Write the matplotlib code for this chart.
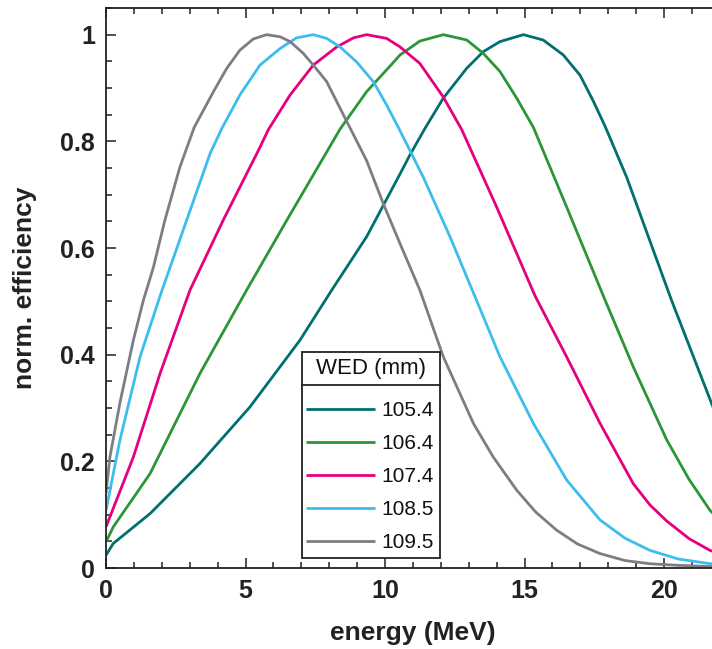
import matplotlib
matplotlib.use("Agg")
import matplotlib.pyplot as plt
from matplotlib.lines import Line2D
from matplotlib.patches import Rectangle
from matplotlib.ticker import MultipleLocator, FixedLocator

plt.rcParams['font.family'] = ['Liberation Sans', 'DejaVu Sans']

labels = ["105.4", "106.4", "107.4", "108.5", "109.5"]
legend_title = "WED (mm)"
colors = ["#00706e", "#2a9638", "#e6007e", "#3cbdee", "#7d7d84"]

x_1054 = [0, 0.26, 1.58, 3.37, 5.16, 6.95, 8.09, 9.34, 10.54, 10.9, 11.43, 12.09, 12.93, 13.52, 14.12,
          14.96, 15.67, 16.39, 16.99, 17.47, 17.89, 18.66, 20.27, 21.71, 22]
y_1054 = [0.024, 0.046, 0.102, 0.196, 0.302, 0.427, 0.521, 0.621, 0.739, 0.775, 0.824, 0.881, 0.937, 0.968, 0.987,
          1.0, 0.990, 0.962, 0.924, 0.875, 0.828, 0.733, 0.502, 0.308, 0.27]

x_1064 = [0, 0.26, 1.58, 3.37, 5.04, 6.48, 8.39, 9.34, 10.3, 10.54, 11.25, 12.09, 12.93, 13.52, 14.12,
          14.72, 15.32, 16.51, 17.89, 18.9, 20.1, 20.9, 21.65, 22]
y_1064 = [0.049, 0.077, 0.177, 0.365, 0.521, 0.652, 0.823, 0.893, 0.948, 0.962, 0.988, 1.0, 0.990, 0.965, 0.931,
          0.881, 0.826, 0.677, 0.502, 0.377, 0.24, 0.166, 0.108, 0.09]

x_1074 = [0, 0.98, 1.94, 3.01, 4.2, 5.52, 5.82, 6.6, 7.43, 8.27, 8.87, 9.34, 10.06, 10.54, 11.25, 12.09,
          12.75, 14.0, 15.38, 16.51, 17.71, 18.9, 19.5, 20.1, 20.9, 21.65, 22]
y_1074 = [0.077, 0.208, 0.365, 0.521, 0.652, 0.789, 0.822, 0.887, 0.943, 0.977, 0.994, 1.0, 0.993, 0.977, 0.946, 0.883,
          0.822, 0.677, 0.51, 0.396, 0.271, 0.158, 0.118, 0.088, 0.055, 0.033, 0.027]

x_1085 = [0, 0.5, 1.22, 1.97, 2.89, 3.73, 4.15, 4.80, 5.52, 6.24, 6.83, 7.43, 7.91, 8.39, 8.98, 9.58,
          10.06, 10.48, 11.37, 12.33, 13.28, 14.12, 15.32, 16.51, 17.71, 18.6, 19.5, 20.5, 21.65, 22]
y_1085 = [0.108, 0.24, 0.396, 0.515, 0.652, 0.777, 0.824, 0.887, 0.943, 0.974, 0.994, 1.0, 0.993, 0.977, 0.949, 0.912,
          0.868, 0.826, 0.733, 0.621, 0.502, 0.396, 0.271, 0.165, 0.09, 0.056, 0.033, 0.017, 0.008, 0.007]

x_1095 = [0, 0.14, 0.5, 0.98, 1.34, 1.70, 2.11, 2.65, 3.16, 3.85, 4.33, 4.80, 5.28, 5.76, 6.24, 6.6, 7.07,
          7.43, 7.91, 8.39, 8.7, 9.34, 9.94, 10.54, 10.9, 11.25, 12.09, 13.17, 13.88, 14.72, 15.4, 16.15,
          16.9, 17.71, 18.6, 19.5, 20.5, 22]
y_1095 = [0.14, 0.208, 0.31, 0.427, 0.502, 0.564, 0.652, 0.752, 0.826, 0.893, 0.937, 0.971, 0.992, 1.0, 0.996, 0.987, 0.965,
          0.943, 0.912, 0.862, 0.83, 0.764, 0.683, 0.608, 0.564, 0.521, 0.396, 0.271, 0.208, 0.146, 0.105, 0.071,
          0.045, 0.027, 0.014, 0.008, 0.005, 0.002]

series_x = [x_1054, x_1064, x_1074, x_1085, x_1095]
series_y = [y_1054, y_1064, y_1074, y_1085, y_1095]

x_major = [0, 5, 10, 15, 20]
y_major = [0, 0.2, 0.4, 0.6, 0.8, 1.0]
y_ticklabels = ["0", "0.2", "0.4", "0.6", "0.8", "1"]

W, H = 712, 649
fig = plt.figure(figsize=(W / 100, H / 100), dpi=100)
ax = fig.add_axes([106 / W, 1 - 568 / H, 22 * 27.9 / W, 560 / H])

handles = []
for xs, ys, c, lab in zip(series_x, series_y, colors, labels):
    ln, = ax.plot(xs, ys, color=c, lw=2.0, label=lab, solid_joinstyle='round', solid_capstyle='butt')
    handles.append(ln)

ax.set_xlim(0, 22)
ax.set_ylim(0, 1.05)
ax.xaxis.set_major_locator(FixedLocator(x_major))
ax.xaxis.set_minor_locator(MultipleLocator(1))
ax.yaxis.set_major_locator(FixedLocator(y_major))
ax.yaxis.set_minor_locator(MultipleLocator(0.05))
ax.set_yticklabels(y_ticklabels)

for s in ax.spines.values():
    s.set_linewidth(1.3)
    s.set_color("#222222")
ax.spines['right'].set_visible(False)

ax.tick_params(which='both', direction='in', top=True, right=False, colors="#222222",
               labelsize=18, width=1.1)
ax.tick_params(which='major', length=7, pad=8)
ax.tick_params(which='minor', length=4)
for t in ax.get_xticklabels() + ax.get_yticklabels():
    t.set_fontweight('bold')
    t.set_color("#222222")

ax.set_xlabel("energy (MeV)", fontsize=19, fontweight='bold', color="#222222", labelpad=13)
ax.set_ylabel("norm. efficiency", fontsize=19, fontweight='bold', color="#222222", labelpad=17)

# legend box (MATLAB style: title on top separated by a line)
def fx(px):
    return px / W

def fy(py):
    return 1 - py / H

box_l, box_r, box_t, box_b, sep_y = 302, 440, 352, 558, 385
frame = Rectangle((fx(box_l), fy(box_b)), fx(box_r) - fx(box_l), fy(box_t) - fy(box_b),
                  transform=fig.transFigure, facecolor='white', edgecolor="#222222", lw=1.3, zorder=4)
fig.add_artist(frame)
fig.add_artist(Line2D([fx(box_l), fx(box_r)], [fy(sep_y), fy(sep_y)], transform=fig.transFigure,
                      color="#222222", lw=1.3, zorder=5))
fig.text(fx((box_l + box_r) / 2), fy((box_t + sep_y) / 2), legend_title, ha='center', va='center',
         fontsize=16, color="#111111", zorder=6)

leg = fig.legend(handles=handles, labels=labels, loc='upper left',
                 bbox_to_anchor=(fx(306), fy(401)), bbox_transform=fig.transFigure,
                 borderaxespad=0, borderpad=0, fontsize=15, frameon=False,
                 handlelength=3.3, handletextpad=0.3, labelspacing=0.67)
leg.set_zorder(7)
for h in leg.get_lines():
    h.set_linewidth(2.0)
for t in leg.get_texts():
    t.set_color("#111111")

fig.savefig("out.png", dpi=100)
